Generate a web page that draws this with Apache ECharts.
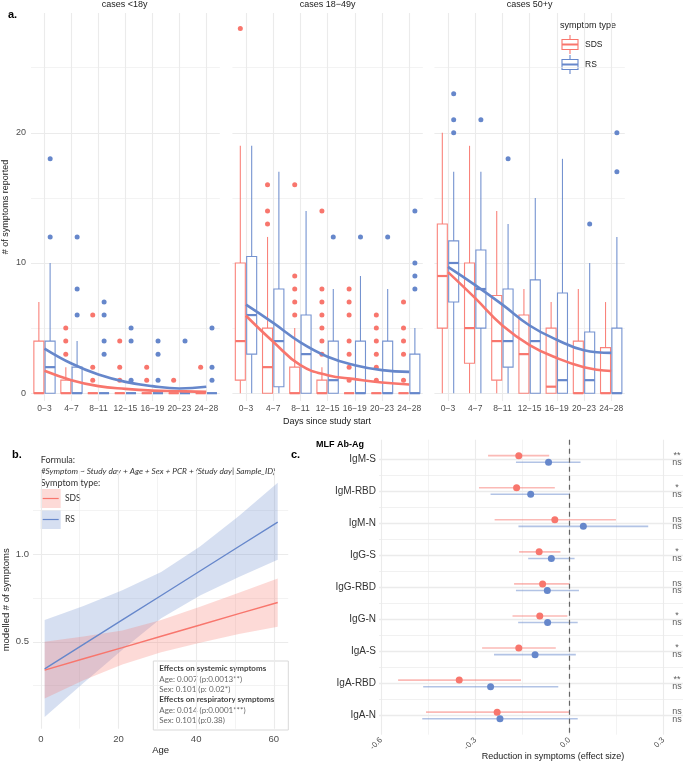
<!DOCTYPE html>
<html lang="en">
<head>
<meta charset="UTF-8">
<title>Symptoms over time, by age and antibody</title>
<script src="https://cdn.jsdelivr.net/npm/echarts@6/dist/echarts.min.js"></script>
</head>
<body style="margin:0">
<div id="chart" style="width:685px;height:762px;"></div>
<script>
// ---- panel a data ----
var dayBins = ['0−3', '4−7', '8−11', '12−15', '16−19', '20−23', '24−28'];
var ageGroups = ['cases <18y', 'cases 18−49y', 'cases 50+y'];

// boxes: [min, Q1, median, Q3, max] per day bin
var sdsBoxes = [
    [[0,0,0,4,7], [0,0,0,1,2], [0,0,0,0,0], [0,0,0,0,0], [0,0,0,0,0], [0,0,0,0,0], [0,0,0,0,0]],
    [[0,1,4,10,19], [0,0,2,5,12], [0,0,0,2,5], [0,0,0,1,2], [0,0,0,0,0], [0,0,0,0,0], [0,0,0,0,0]],
    [[0,5,9,13,20], [0,2.3,5,10,19], [0,1,4,7.5,14], [0,0,3,6,8], [0,0,0.5,5,7], [0,0,0,4,8], [0,0,0,3.5,7]]
];
var rsBoxes = [
    [[0,0,2,4,10], [0,0,0,2,4], [0,0,0,0,0], [0,0,0,0,0], [0,0,0,0,0], [0,0,0,0,0], [0,0,0,0,0]],
    [[0,3,6,10.5,19], [0,0.5,4,8,17], [0,0,3,6,14], [0,0,1,4,8], [0,0,0,4,9], [0,0,0,4,8], [0,0,0,3,5]],
    [[0,7,10,11.7,17], [0,5,8,11,17], [0,2,4,8,13], [0,0,4,8.7,15], [0,0,1,7.7,18], [0,0,1,4.7,10], [0,0,0,5,12]]
];
var sdsOutliers = [
    [[], [3,4,5], [1,2,6], [1,2,4], [1,2], [1], [2]],
    [[28], [13,14,16], [6,7,8,9,16], [3,4,5,6,7,8,14], [1,2,3,4,6,7,8], [1,2,3,4,5,6], [1,3,4,5,7]],
    [[], [], [], [], [], [], []]
];
var rsOutliers = [
    [[12,18], [6,8,12], [3,4,6,7], [1,4,5], [1,3,4], [4], [1,2,5]],
    [[], [], [], [12], [12], [12], [8,9,10,14]],
    [[20,21,23], [21], [18], [], [], [13], [17,20]]
];
var sdsTrend = [
    [1.72, 1.0, 0.54, 0.33, 0.2, 0.15, 0.1],
    [5.95, 3.95, 2.15, 1.38, 1.08, 0.82, 0.67],
    [9.3, 7.3, 5.2, 3.7, 2.7, 2.0, 1.7]
];
var rsTrend = [
    [3.43, 2.28, 1.43, 0.87, 0.54, 0.36, 0.49],
    [6.8, 5.4, 3.9, 2.8, 2.15, 1.77, 1.64],
    [9.7, 8.3, 6.8, 5.2, 4.1, 3.3, 3.1]
];
var countTicks = [0, 10, 20];
var countMinor = [5, 15, 25];

// ---- panel b data ----
var ages = [1, 11, 21, 31, 41, 51, 61];
var sdsFit = [0.338, 0.403, 0.467, 0.532, 0.596, 0.661, 0.725];
var sdsLow = [0.176, 0.28, 0.37, 0.44, 0.495, 0.545, 0.586];
var sdsHigh = [0.50, 0.53, 0.565, 0.625, 0.70, 0.78, 0.862];
var rsFit = [0.345, 0.485, 0.625, 0.765, 0.905, 1.045, 1.185];
var rsLow = [0.07, 0.265, 0.455, 0.635, 0.765, 0.87, 0.97];
var rsHigh = [0.625, 0.705, 0.795, 0.9, 1.045, 1.22, 1.41];
var ageTicks = [0, 20, 40, 60];
var ageMinor = [10, 30, 50];
var modelTicks = [0.5, 1.0];
var modelMinor = [0.25, 0.75, 1.25];

// ---- panel c data ----
var antigens = ['IgM-S', 'IgM-RBD', 'IgM-N', 'IgG-S', 'IgG-RBD', 'IgG-N', 'IgA-S', 'IgA-RBD', 'IgA-N'];
var sdsEffect = [-0.161, -0.168, -0.046, -0.096, -0.085, -0.094, -0.161, -0.351, -0.230];
var sdsLower = [-0.259, -0.288, -0.238, -0.160, -0.176, -0.181, -0.278, -0.546, -0.457];
var sdsUpper = [-0.064, -0.046, 0.149, -0.028, 0.0, -0.006, -0.043, -0.154, 0.0];
var rsEffect = [-0.066, -0.123, 0.045, -0.057, -0.070, -0.069, -0.109, -0.251, -0.221];
var rsLower = [-0.170, -0.251, -0.162, -0.131, -0.170, -0.163, -0.240, -0.466, -0.469];
var rsUpper = [0.036, 0.002, 0.252, 0.017, 0.031, 0.027, 0.021, -0.035, 0.027];
var sdsSig = ['**', '*', 'ns', '*', 'ns', '*', '*', '**', 'ns'];
var rsSig = ['ns', 'ns', 'ns', 'ns', 'ns', 'ns', 'ns', 'ns', 'ns'];
var effectTicks = [-0.6, -0.3, 0, 0.3];
var effectMinor = [-0.45, -0.15, 0.15];
var sigX = 0.344;

var RED = '#F8766D', BLUE = '#6687CB';
var FONT = '"Liberation Sans", Arial, sans-serif';
var NOTE = 'Lato, "Open Sans", sans-serif';

var chart = echarts.init(document.getElementById('chart'));

// hidden axis that only draws grid lines
function lineAxis(grid, min, max, ticks, width, inverse) {
    return {
        type: 'value', gridIndex: grid, min: min, max: max, inverse: !!inverse,
        axisLine: {show: false}, axisLabel: {show: false},
        axisTick: {show: false, customValues: ticks},
        splitLine: {show: true, lineStyle: {color: '#ebebeb', width: width}}
    };
}

function points(list) {
    var out = [];
    list.forEach(function (vals, i) {
        vals.forEach(function (v) { out.push([i, v]); });
    });
    return out;
}

// dodge offset of one of two boxes inside a category band
function dodge(api, side) {
    var bw = api.size([1, 0])[0];
    var avail = bw * 0.8 - 2, gap = avail / 2 * 0.3, w = (avail - gap) / 2;
    return side * (w + gap) / 2;
}

// ggplot-like box: no whisker caps, thicker median
function boxItem(side, color) {
    return function (params, api) {
        var i = api.value(0);
        var x = api.coord([i, 0])[0] + dodge(api, side);
        var y = [1, 2, 3, 4, 5].map(function (d) { return api.coord([i, api.value(d)])[1]; });
        var half = 5;
        var thin = {stroke: color, lineWidth: 1.1, opacity: 0.9};
        return {
            type: 'group', children: [
                {type: 'line', shape: {x1: x, y1: y[4], x2: x, y2: y[3]}, style: thin},
                {type: 'line', shape: {x1: x, y1: y[1], x2: x, y2: y[0]}, style: thin},
                {type: 'rect', shape: {x: x - half, y: y[3], width: 2 * half, height: y[1] - y[3]},
                    style: {fill: '#fff', stroke: color, lineWidth: 1.1, opacity: 0.9}},
                {type: 'line', shape: {x1: x - half, y1: y[2], x2: x + half, y2: y[2]},
                    style: {stroke: color, lineWidth: 2.2}}
            ]
        };
    };
}

var facetLeft = [29.4, 232.4, 434.4];
var grids = [], xAxes = [], yAxes = [], series = [];

facetLeft.forEach(function (left) {
    grids.push({left: left, top: 13, width: 190.4, height: 388});
});
grids.push({left: 28.6, top: 471, width: 259.6, height: 257.7});   // b
grids.push({left: 379, top: 439.7, width: 304, height: 295});      // c

// facet axes: category 0-2, vertical grid 3-5
for (var f = 0; f < 3; f++) {
    xAxes.push({
        type: 'category', gridIndex: f, data: dayBins,
        axisLine: {show: false}, axisTick: {show: false}, splitLine: {show: false},
        axisLabel: {interval: 0, fontSize: 8.5, color: '#4d4d4d', margin: 3, fontFamily: FONT}
    });
}
for (f = 0; f < 3; f++) xAxes.push(lineAxis(f, -0.5, 6.5, [0, 1, 2, 3, 4, 5, 6], 1.1));
// b: 6 main, 7 minor
xAxes.push({
    type: 'value', gridIndex: 3, min: -2, max: 63.7,
    axisLine: {show: false}, axisTick: {show: false, customValues: ageTicks},
    axisLabel: {customValues: ageTicks, fontSize: 9.5, color: '#4d4d4d', margin: 6, fontFamily: FONT},
    splitLine: {show: true, lineStyle: {color: '#ebebeb', width: 1.1}},
    name: 'Age', nameLocation: 'middle', nameGap: 17,
    nameTextStyle: {fontSize: 9.5, color: '#1a1a1a', fontFamily: FONT}
});
xAxes.push(lineAxis(3, -2, 63.7, ageMinor, 0.6));
// c: 8 main, 9 minor
xAxes.push({
    type: 'value', gridIndex: 4, min: -0.607, max: 0.363,
    axisLine: {show: false}, axisTick: {show: false, customValues: effectTicks},
    axisLabel: {customValues: effectTicks, rotate: 45, fontSize: 8, color: '#4d4d4d', margin: 4, fontFamily: FONT,
        formatter: function (v) { return v.toFixed(1); }},
    splitLine: {show: true, lineStyle: {color: '#ebebeb', width: 1.1}}
});
xAxes.push(lineAxis(4, -0.607, 0.363, effectMinor, 0.6));

// y axes: facets 0-2 main, 3-5 minor, b 6/7, c 8/9
for (f = 0; f < 3; f++) {
    yAxes.push({
        type: 'value', gridIndex: f, min: -0.6, max: 29.2,
        axisLine: {show: false}, axisTick: {show: false, customValues: countTicks},
        axisLabel: {show: f === 0, customValues: countTicks, fontSize: 9, color: '#4d4d4d', margin: 5, fontFamily: FONT},
        splitLine: {show: true, lineStyle: {color: '#ebebeb', width: 1.1}},
        name: f === 0 ? '# of symptoms reported' : '', nameLocation: 'middle', nameGap: 21,
        nameTextStyle: {fontSize: 9, color: '#1a1a1a', fontFamily: FONT}
    });
}
for (f = 0; f < 3; f++) yAxes.push(lineAxis(f, -0.6, 29.2, countMinor, 0.6));
yAxes.push({
    type: 'value', gridIndex: 3, min: 0.003, max: 1.477,
    axisLine: {show: false}, axisTick: {show: false, customValues: modelTicks},
    axisLabel: {customValues: modelTicks, fontSize: 9.5, color: '#4d4d4d', margin: 4, fontFamily: FONT,
        formatter: function (v) { return v.toFixed(1); }},
    splitLine: {show: true, lineStyle: {color: '#ebebeb', width: 1.1}},
    name: 'modelled # of symptoms', nameLocation: 'middle', nameGap: 22,
    nameTextStyle: {fontSize: 9.5, color: '#1a1a1a', fontFamily: FONT}
});
yAxes.push(lineAxis(3, 0.003, 1.477, modelMinor, 0.6));
yAxes.push({
    type: 'value', gridIndex: 4, min: -0.6, max: 8.6, inverse: true,
    axisLine: {show: false}, axisTick: {show: false, customValues: [0, 1, 2, 3, 4, 5, 6, 7, 8]},
    axisLabel: {customValues: [0, 1, 2, 3, 4, 5, 6, 7, 8], fontSize: 10, color: '#333', margin: 3, fontFamily: FONT,
        formatter: function (v) { return antigens[Math.round(v)]; }},
    splitLine: {show: true, lineStyle: {color: '#ebebeb', width: 1.3}}
});
yAxes.push(lineAxis(4, -0.6, 8.6, [0.5, 1.5, 2.5, 3.5, 4.5, 5.5, 6.5, 7.5], 0.7, true));

// ---- panel a series ----
for (f = 0; f < 3; f++) {
    [[sdsBoxes, RED, -1], [rsBoxes, BLUE, 1]].forEach(function (s) {
        series.push({
            type: 'custom', xAxisIndex: f, yAxisIndex: f, silent: true,
            data: s[0][f].map(function (b, i) { return [i].concat(b); }),
            encode: {x: 0, y: [1, 2, 3, 4, 5]},
            renderItem: boxItem(s[2], s[1])
        });
    });
    [[sdsOutliers, RED, -1], [rsOutliers, BLUE, 1]].forEach(function (s) {
        series.push({
            type: 'scatter', xAxisIndex: f, yAxisIndex: f, silent: true,
            data: points(s[0][f]), symbolSize: 5, symbolOffset: [s[2] * 5.68, 0],
            itemStyle: {color: s[1], opacity: 1}
        });
    });
    [[sdsTrend, RED], [rsTrend, BLUE]].forEach(function (s) {
        series.push({
            type: 'line', xAxisIndex: f, yAxisIndex: f, data: s[0][f], smooth: 0.45,
            showSymbol: false, silent: true, lineStyle: {color: s[1], width: 2.6}
        });
    });
}

// ---- panel b series ----
function ribbon(low, high, fill) {
    return {
        type: 'custom', xAxisIndex: 6, yAxisIndex: 6, silent: true, data: [[ages[0], low[0]]],
        renderItem: function (params, api) {
            var pts = [];
            for (var i = 0; i < ages.length; i++) pts.push(api.coord([ages[i], high[i]]));
            for (var j = ages.length - 1; j >= 0; j--) pts.push(api.coord([ages[j], low[j]]));
            return {type: 'polygon', shape: {points: pts}, style: {fill: fill}};
        }
    };
}
function fitLine(fit, color) {
    return {
        type: 'line', xAxisIndex: 6, yAxisIndex: 6, silent: true, showSymbol: false,
        data: ages.map(function (a, i) { return [a, fit[i]]; }),
        lineStyle: {color: color, width: 1.4}
    };
}
series.push(ribbon(rsLow, rsHigh, 'rgba(102,135,203,0.27)'));
series.push(fitLine(rsFit, BLUE));
series.push(ribbon(sdsLow, sdsHigh, 'rgba(248,118,109,0.27)'));
series.push(fitLine(sdsFit, RED));

// ---- panel c series ----
function ciSeries(lower, upper, color, dy, withZero) {
    var s = {
        type: 'custom', xAxisIndex: 8, yAxisIndex: 8, silent: true,
        data: antigens.map(function (_, i) { return [lower[i], upper[i], i]; }),
        encode: {x: [0, 1], y: 2},
        renderItem: function (params, api) {
            var a = api.coord([api.value(0), api.value(2)]);
            var b = api.coord([api.value(1), api.value(2)]);
            return {
                type: 'line',
                shape: {x1: a[0], y1: a[1] + dy, x2: b[0], y2: b[1] + dy},
                style: {stroke: color, lineWidth: 1.6}
            };
        }
    };
    if (withZero) {
        s.markLine = {
            silent: true, symbol: 'none', label: {show: false},
            lineStyle: {color: '#666', type: [5, 4], width: 1.2},
            data: [{xAxis: 0}]
        };
    }
    return s;
}
series.push(ciSeries(sdsLower, sdsUpper, 'rgba(248,118,109,0.5)', -3.3, true));
series.push(ciSeries(rsLower, rsUpper, 'rgba(102,135,203,0.5)', 3.3, false));
[[sdsEffect, RED, -3.3], [rsEffect, BLUE, 3.3]].forEach(function (s) {
    series.push({
        type: 'scatter', xAxisIndex: 8, yAxisIndex: 8, silent: true,
        data: s[0].map(function (v, i) { return [v, i]; }),
        symbolSize: 7, symbolOffset: [0, s[2]], itemStyle: {color: s[1], opacity: 1}
    });
});
[[sdsSig, -3.8], [rsSig, 3.6]].forEach(function (s) {
    series.push({
        type: 'scatter', xAxisIndex: 8, yAxisIndex: 8, silent: true,
        data: s[0].map(function (t, i) { return [sigX, i]; }),
        symbolSize: 1, symbolOffset: [0, s[1]], itemStyle: {color: 'rgba(0,0,0,0)'},
        label: {show: true, position: 'inside', fontSize: 9, color: '#333', fontFamily: FONT,
            formatter: function (p) { return s[0][p.dataIndex]; }}
    });
});

// ---- texts and keys ----
function txt(x, y, s, font, color, align) {
    return {
        type: 'text', x: x, y: y, silent: true,
        style: {text: s, font: font, fill: color || '#1a1a1a',
            align: align || 'left', textAlign: align || 'left',
            verticalAlign: 'middle', textVerticalAlign: 'middle'}
    };
}
function boxKey(cx, cy, color) {
    return {
        type: 'group', silent: true, children: [
            {type: 'line', shape: {x1: cx, y1: cy - 9.5, x2: cx, y2: cy + 9.5}, style: {stroke: color, lineWidth: 1.1}},
            {type: 'rect', shape: {x: cx - 8, y: cy - 5, width: 16, height: 10}, style: {fill: '#fff', stroke: color, lineWidth: 1.1}},
            {type: 'line', shape: {x1: cx - 8, y1: cy, x2: cx + 8, y2: cy}, style: {stroke: color, lineWidth: 2}}
        ]
    };
}
function ribbonKey(x, y, fill, color) {
    return {
        type: 'group', silent: true, children: [
            {type: 'rect', shape: {x: x, y: y, width: 20, height: 19}, style: {fill: fill}},
            {type: 'line', shape: {x1: x + 2, y1: y + 9.5, x2: x + 18, y2: y + 9.5}, style: {stroke: color, lineWidth: 1.2}}
        ]
    };
}

var graphics = [
    txt(8, 15, 'a.', 'bold 11px ' + FONT, '#000'),
    txt(124.6, 5, ageGroups[0], '9px ' + FONT, '#1a1a1a', 'center'),
    txt(327.6, 5, ageGroups[1], '9px ' + FONT, '#1a1a1a', 'center'),
    txt(529.6, 5, ageGroups[2], '9px ' + FONT, '#1a1a1a', 'center'),
    txt(327, 422, 'Days since study start', '9px ' + FONT, '#1a1a1a', 'center'),
    txt(560, 26, 'symptom type', '9px ' + FONT, '#1a1a1a'),
    boxKey(570, 44.5, RED),
    txt(585, 44.5, 'SDS', '8.5px ' + FONT, '#1a1a1a'),
    boxKey(570, 64.5, BLUE),
    txt(585, 64.5, 'RS', '8.5px ' + FONT, '#1a1a1a'),

    txt(12, 455, 'b.', 'bold 11px ' + FONT, '#000'),
    txt(40.7, 460, 'Formula:', '9px ' + NOTE, '#333'),
    txt(40.7, 471.5, '#Symptom ~ Study day + Age + Sex + PCR + (Study day| Sample_ID)', 'italic 8.3px ' + NOTE, '#333'),
    txt(40.7, 483, 'Symptom type:', '9px ' + NOTE, '#333'),
    ribbonKey(40.7, 489, 'rgba(248,118,109,0.27)', RED),
    txt(65, 498.5, 'SDS', '8.5px ' + NOTE, '#333'),
    ribbonKey(40.7, 510, 'rgba(102,135,203,0.27)', BLUE),
    txt(65, 519.5, 'RS', '8.5px ' + NOTE, '#333'),
    {type: 'rect', silent: true, shape: {x: 153.3, y: 661, width: 135, height: 69},
        style: {fill: '#fff', stroke: '#d9d9d9', lineWidth: 1}},
    txt(159.3, 668.5, 'Effects on systemic symptoms', 'bold 8px ' + NOTE, '#444'),
    txt(159.3, 679, 'Age: 0.007 (p:0.0013**)', '8px ' + NOTE, '#666'),
    txt(159.3, 689.5, 'Sex: 0.101 (p: 0.02*)', '8px ' + NOTE, '#666'),
    txt(159.3, 699.5, 'Effects on respiratory symptoms', 'bold 8px ' + NOTE, '#444'),
    txt(159.3, 710, 'Age: 0.014 (p:0.0001***)', '8px ' + NOTE, '#666'),
    txt(159.3, 720.5, 'Sex: 0.101 (p:0.38)', '8px ' + NOTE, '#666'),

    txt(291, 455, 'c.', 'bold 11px ' + FONT, '#000'),
    txt(316, 445, 'MLF Ab-Ag', 'bold 9px ' + FONT, '#000'),
    txt(553, 757, 'Reduction in symptoms (effect size)', '9px ' + FONT, '#1a1a1a', 'center')
];

var option = {
    animation: false,
    backgroundColor: '#fff',
    textStyle: {fontFamily: FONT},
    grid: grids,
    xAxis: xAxes,
    yAxis: yAxes,
    series: series,
    graphic: graphics
};
chart.setOption(option);
</script>
</body>
</html>
